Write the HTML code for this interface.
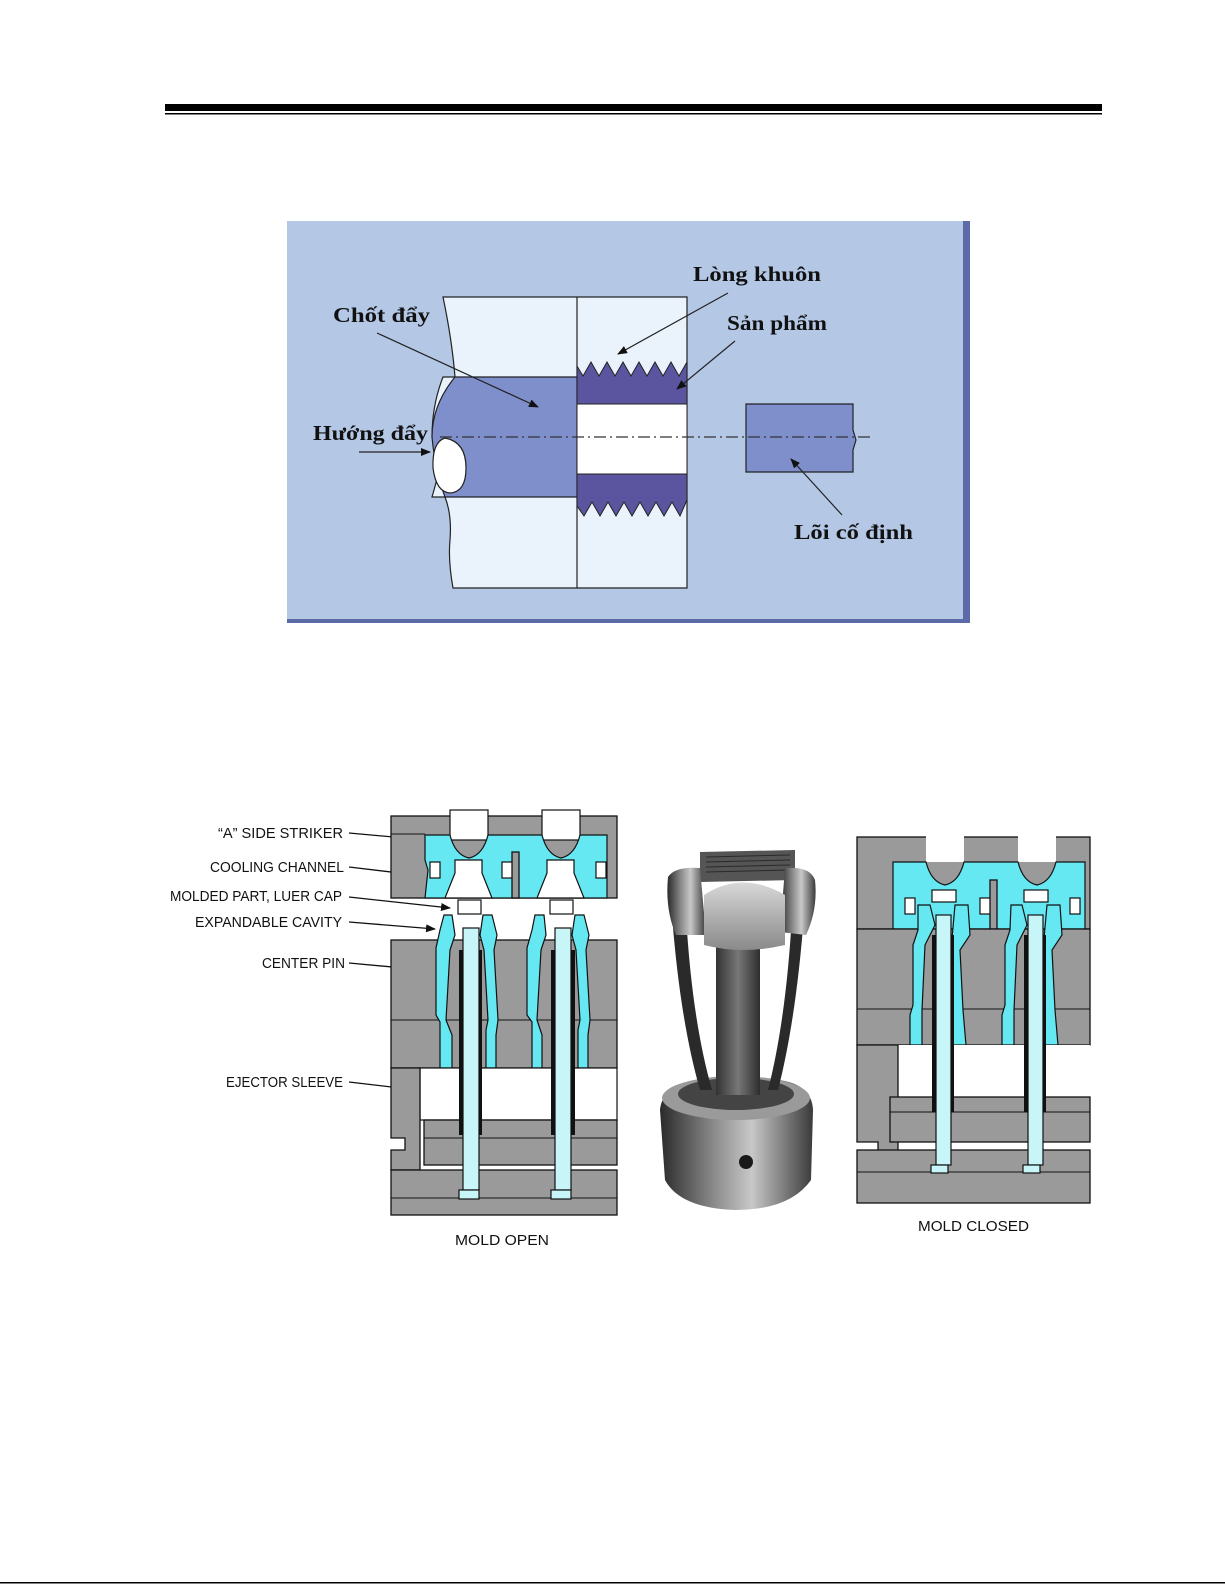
<!DOCTYPE html>
<html><head><meta charset="utf-8"><style>
html,body{margin:0;padding:0;background:#fff;}
svg{display:block}
text{font-family:"Liberation Sans",sans-serif;}
.vt{font-family:"Liberation Serif","DejaVu Serif",serif;font-size:21px;fill:#111;font-weight:bold;}
.lb{font-size:15px;fill:#111;}
.g{fill:#9a9a9a;stroke:#111;stroke-width:1.3}
.c{fill:#66e8f2;stroke:#111;stroke-width:1.2}
.lc{fill:#c8f5f8;stroke:#111;stroke-width:1.2}
.w{fill:#fff;stroke:#111;stroke-width:1.2}
</style></head><body>
<svg width="1225" height="1585" viewBox="0 0 1225 1585" xmlns="http://www.w3.org/2000/svg">
<defs>
<marker id="ar" markerWidth="10" markerHeight="8" refX="9" refY="4" orient="auto" markerUnits="userSpaceOnUse"><path d="M0,0 L10,4 L0,8 z" fill="#111"/></marker>
<linearGradient id="met" x1="0" x2="1"><stop offset="0" stop-color="#2a2a2a"/><stop offset="0.35" stop-color="#8a8a8a"/><stop offset="0.6" stop-color="#c8c8c8"/><stop offset="1" stop-color="#3a3a3a"/></linearGradient>
<linearGradient id="met2" x1="0" x2="1"><stop offset="0" stop-color="#333"/><stop offset="0.5" stop-color="#777"/><stop offset="1" stop-color="#2e2e2e"/></linearGradient>
<linearGradient id="cap" x1="0" x2="0" y1="0" y2="1"><stop offset="0" stop-color="#d8d8d8"/><stop offset="0.5" stop-color="#b0b0b0"/><stop offset="1" stop-color="#8a8a8a"/></linearGradient>
</defs>
<rect x="165" y="104" width="937" height="7" fill="#000"/>
<rect x="165" y="113" width="937" height="1.5" fill="#000"/>
<rect x="0" y="1582" width="1225" height="1.5" fill="#000"/>

<rect x="287" y="221" width="683" height="402" fill="#b4c8e6"/>
<rect x="963" y="221" width="7" height="402" fill="#5c6aa8"/>
<rect x="287" y="619" width="683" height="4" fill="#5c6aa8"/>
<path d="M443,297 L687,297 L687,588 L453,588 Q448,560 450,540 Q452,515 445,497 L432,497 Q440,470 440,460 Q440,440 432,437 Q432,405 443,377 L455,377 Q452,340 443,297 Z" fill="#eaf2fc" stroke="#222" stroke-width="1.2"/>
<line x1="577" y1="297" x2="577" y2="588" stroke="#222" stroke-width="1.2"/>
<path d="M455,377 L577,377 L577,497 L445,497 Q435,470 432,437 Q432,405 455,377 Z" fill="#7f8fcc" stroke="#222" stroke-width="1.2"/>
<path d="M445,438 Q432,442 433,468 Q436,492 450,493 Q466,492 466,468 Q466,442 445,438 Z" fill="#fff" stroke="#222" stroke-width="1.2"/>
<path d="M577,377 L577,404 L687,404 L687,362 L679,376 L671,362 L663,376 L655,362 L647,376 L639,362 L631,376 L623,362 L615,376 L607,362 L599,376 L591,362 L583,376 L577,366 Z" fill="#5b55a0" stroke="#222" stroke-width="1"/>
<rect x="577" y="404" width="110" height="70" fill="#fff" stroke="#222" stroke-width="1"/>
<path d="M577,474 L687,474 L687,500 L680,516 L672,502 L664,516 L656,502 L648,516 L640,502 L632,516 L624,502 L616,516 L608,502 L600,516 L592,502 L584,516 L577,506 Z" fill="#5b55a0" stroke="#222" stroke-width="1"/>
<path d="M746,404 L853,404 L853,430 L856,440 L853,450 L853,472 L746,472 Z" fill="#7f8fcc" stroke="#222" stroke-width="1.2"/>
<line x1="440" y1="437" x2="872" y2="437" stroke="#333" stroke-width="1.3" stroke-dasharray="12,4,2,4"/>
<text class="vt" x="693" y="281" textLength="128" lengthAdjust="spacingAndGlyphs">Lòng khuôn</text>
<text class="vt" x="727" y="330" textLength="100" lengthAdjust="spacingAndGlyphs">Sản phẩm</text>
<text class="vt" x="333" y="322" textLength="97" lengthAdjust="spacingAndGlyphs">Chốt đẩy</text>
<text class="vt" x="313" y="440" textLength="115" lengthAdjust="spacingAndGlyphs">Hướng đẩy</text>
<text class="vt" x="794" y="539" textLength="119" lengthAdjust="spacingAndGlyphs">Lõi cố định</text>
<line x1="728" y1="293" x2="618" y2="354" stroke="#222" stroke-width="1.2" marker-end="url(#ar)"/>
<line x1="735" y1="341" x2="677" y2="389" stroke="#222" stroke-width="1.2" marker-end="url(#ar)"/>
<line x1="377" y1="333" x2="538" y2="407" stroke="#222" stroke-width="1.2" marker-end="url(#ar)"/>
<line x1="359" y1="452" x2="430" y2="452" stroke="#222" stroke-width="1.2" marker-end="url(#ar)"/>
<line x1="842" y1="515" x2="791" y2="459" stroke="#222" stroke-width="1.2" marker-end="url(#ar)"/>

<g class="lb">
<text x="218" y="838" textLength="125" lengthAdjust="spacingAndGlyphs">“A” SIDE STRIKER</text>
<text x="210" y="872" textLength="134" lengthAdjust="spacingAndGlyphs">COOLING CHANNEL</text>
<text x="170" y="901" textLength="172" lengthAdjust="spacingAndGlyphs">MOLDED PART, LUER CAP</text>
<text x="195" y="927" textLength="147" lengthAdjust="spacingAndGlyphs">EXPANDABLE CAVITY</text>
<text x="262" y="968" textLength="83" lengthAdjust="spacingAndGlyphs">CENTER PIN</text>
<text x="226" y="1087" textLength="117" lengthAdjust="spacingAndGlyphs">EJECTOR SLEEVE</text>
<text x="455" y="1245" textLength="94" lengthAdjust="spacingAndGlyphs">MOLD OPEN</text>
<text x="918" y="1231" textLength="111" lengthAdjust="spacingAndGlyphs">MOLD CLOSED</text>
</g>
<g stroke="#111" stroke-width="1.3">
<line x1="349" y1="833" x2="438" y2="841" marker-end="url(#ar)"/>
<line x1="349" y1="867" x2="433" y2="877" marker-end="url(#ar)"/>
<line x1="349" y1="897" x2="450" y2="908" marker-end="url(#ar)"/>
<line x1="349" y1="922" x2="435" y2="929" marker-end="url(#ar)"/>
<line x1="349" y1="963" x2="468" y2="974" marker-end="url(#ar)"/>
<line x1="349" y1="1082" x2="459" y2="1095" marker-end="url(#ar)"/>
</g>

<g>
<rect class="g" x="391" y="816" width="226" height="82"/>
<rect class="w" x="450" y="810" width="38" height="30" stroke="none"/>
<rect class="w" x="542" y="810" width="38" height="30" stroke="none"/>
<path class="c" d="M425,835 L450,835 Q455,855 469,858 Q483,855 488,835 L542,835 Q547,855 561,858 Q575,855 580,835 L607,835 L607,898 L425,898 L428,870 L425,860 Z"/>
<path class="w" d="M455,860 L482,860 L482,873 L492,898 L445,898 L455,873 Z"/>
<path class="w" d="M547,860 L574,860 L574,873 L584,898 L537,898 L547,873 Z"/>
<rect class="w" x="430" y="862" width="10" height="16"/>
<rect class="w" x="502" y="862" width="12" height="16"/>
<rect class="w" x="596" y="862" width="10" height="16"/>
<rect class="g" x="512" y="852" width="7" height="46"/>
<line x1="391" y1="834" x2="425" y2="834" stroke="#111"/>
<rect class="g" x="391" y="940" width="226" height="128"/>
<line x1="391" y1="1020" x2="617" y2="1020" stroke="#111"/>
<path class="c" d="M444,915 L452,915 L455,935 L450,950 L446,1020 L452,1035 L452,1068 L440,1068 L440,1022 L436,1015 L436,948 L440,930 Z"/>
<path class="c" d="M483,915 L492,915 L497,935 L494,950 L498,1020 L496,1035 L496,1068 L486,1068 L486,1030 L488,1020 L484,950 L480,935 Z"/>
<path class="c" d="M535,915 L544,915 L546,935 L541,950 L537,1020 L542,1035 L542,1068 L532,1068 L532,1022 L527,1015 L527,948 L532,930 Z"/>
<path class="c" d="M575,915 L584,915 L589,935 L586,950 L590,1020 L588,1035 L588,1068 L578,1068 L578,1030 L580,1020 L576,950 L572,935 Z"/>
<rect class="w" x="458" y="900" width="23" height="14"/>
<rect class="w" x="550" y="900" width="23" height="14"/>
<rect class="w" x="420" y="1068" width="197" height="52" stroke="none"/>
<path class="g" d="M391,1068 L420,1068 L420,1170 L391,1170 L391,1150 L405,1150 L405,1138 L391,1138 Z"/>
<rect class="g" x="424" y="1120" width="193" height="45"/>
<line x1="424" y1="1138" x2="617" y2="1138" stroke="#111"/>
<rect class="g" x="391" y="1170" width="226" height="45"/>
<line x1="391" y1="1198" x2="617" y2="1198" stroke="#111"/>
<rect x="459" y="950" width="4" height="185" fill="#111"/>
<rect x="479" y="950" width="3" height="185" fill="#111"/>
<rect x="551" y="950" width="4" height="185" fill="#111"/>
<rect x="571" y="950" width="4" height="185" fill="#111"/>
<rect class="lc" x="463" y="928" width="16" height="262"/>
<rect class="lc" x="459" y="1190" width="20" height="9"/>
<rect class="lc" x="555" y="928" width="16" height="262"/>
<rect class="lc" x="551" y="1190" width="20" height="9"/>
</g>

<!-- photo -->
<g>
<path d="M660,1110 Q662,1085 700,1080 L780,1080 Q812,1085 813,1110 L811,1180 Q790,1210 735,1210 Q680,1208 665,1180 Z" fill="url(#met)"/>
<ellipse cx="736" cy="1098" rx="74" ry="22" fill="#9a9a9a"/>
<ellipse cx="736" cy="1094" rx="58" ry="16" fill="#444"/>
<circle cx="746" cy="1162" r="7" fill="#1a1a1a"/>
<rect x="716" y="940" width="44" height="155" fill="url(#met2)"/>
<path d="M672,915 Q680,1020 700,1090 L712,1090 Q692,1020 686,915 Z" fill="#2a2a2a"/>
<path d="M804,915 Q796,1020 778,1090 L768,1090 Q786,1020 792,915 Z" fill="#2a2a2a"/>
<path d="M700,852 L795,850 L795,880 L700,882 Z" fill="#555"/>
<g stroke="#2a2a2a" stroke-width="1"><line x1="706" y1="857" x2="790" y2="855"/><line x1="706" y1="862" x2="790" y2="860"/><line x1="706" y1="867" x2="790" y2="865"/><line x1="706" y1="872" x2="790" y2="870"/></g>
<path d="M668,877 Q675,866 700,868 L706,935 L676,935 Q665,910 668,877 Z" fill="url(#met)"/>
<path d="M785,868 Q810,866 815,880 Q818,910 806,935 L780,932 Z" fill="url(#met)"/>
<path d="M704,895 Q742,870 785,895 L785,945 Q742,955 704,945 Z" fill="url(#cap)"/>
</g>

<g>
<rect class="g" x="857" y="837" width="233" height="92"/>
<rect x="926" y="832" width="38" height="30" fill="#fff"/>
<rect x="1018" y="832" width="38" height="30" fill="#fff"/>
<path class="c" d="M893,862 L926,862 Q931,882 945,885 Q959,882 964,862 L1018,862 Q1023,882 1037,885 Q1051,882 1056,862 L1085,862 L1085,929 L893,929 Z" fill="#9ef0f6"/>
<rect class="w" x="932" y="890" width="24" height="12"/>
<rect class="w" x="1024" y="890" width="24" height="12"/>
<rect class="w" x="905" y="898" width="10" height="16"/>
<rect class="w" x="980" y="898" width="12" height="16"/>
<rect class="w" x="1070" y="898" width="10" height="16"/>
<rect class="g" x="990" y="880" width="7" height="49"/>
<rect class="g" x="857" y="929" width="233" height="116"/>
<line x1="857" y1="1009" x2="1090" y2="1009" stroke="#111"/>
<path class="c" d="M918,905 L930,905 L935,925 L925,945 L922,1010 L922,1045 L910,1045 L910,1015 L913,1005 L913,945 L918,930 Z"/>
<path class="c" d="M955,905 L968,905 L970,935 L960,950 L963,1010 L966,1045 L953,1045 L953,1010 L951,950 Z"/>
<path class="c" d="M1011,905 L1022,905 L1027,925 L1017,945 L1014,1010 L1014,1045 L1002,1045 L1002,1015 L1005,1005 L1005,945 L1010,930 Z"/>
<path class="c" d="M1047,905 L1060,905 L1062,935 L1052,950 L1055,1010 L1058,1045 L1045,1045 L1045,1010 L1043,950 Z"/>
<rect x="898" y="1045" width="192" height="52" fill="#fff"/>
<path class="g" d="M857,1045 L898,1045 L898,1160 L878,1160 L878,1142 L857,1142 Z"/>
<rect class="g" x="890" y="1097" width="200" height="45"/>
<line x1="890" y1="1112" x2="1090" y2="1112" stroke="#111"/>
<rect class="g" x="857" y="1150" width="233" height="53"/>
<line x1="857" y1="1172" x2="1090" y2="1172" stroke="#111"/>
<rect x="932" y="935" width="4" height="177" fill="#111"/>
<rect x="951" y="935" width="3" height="177" fill="#111"/>
<rect x="1024" y="935" width="4" height="177" fill="#111"/>
<rect x="1043" y="935" width="3" height="177" fill="#111"/>
<rect class="lc" x="936" y="915" width="15" height="250"/>
<rect class="lc" x="931" y="1165" width="17" height="8"/>
<rect class="lc" x="1028" y="915" width="15" height="250"/>
<rect class="lc" x="1023" y="1165" width="17" height="8"/>
</g>
</svg>
</body></html>
